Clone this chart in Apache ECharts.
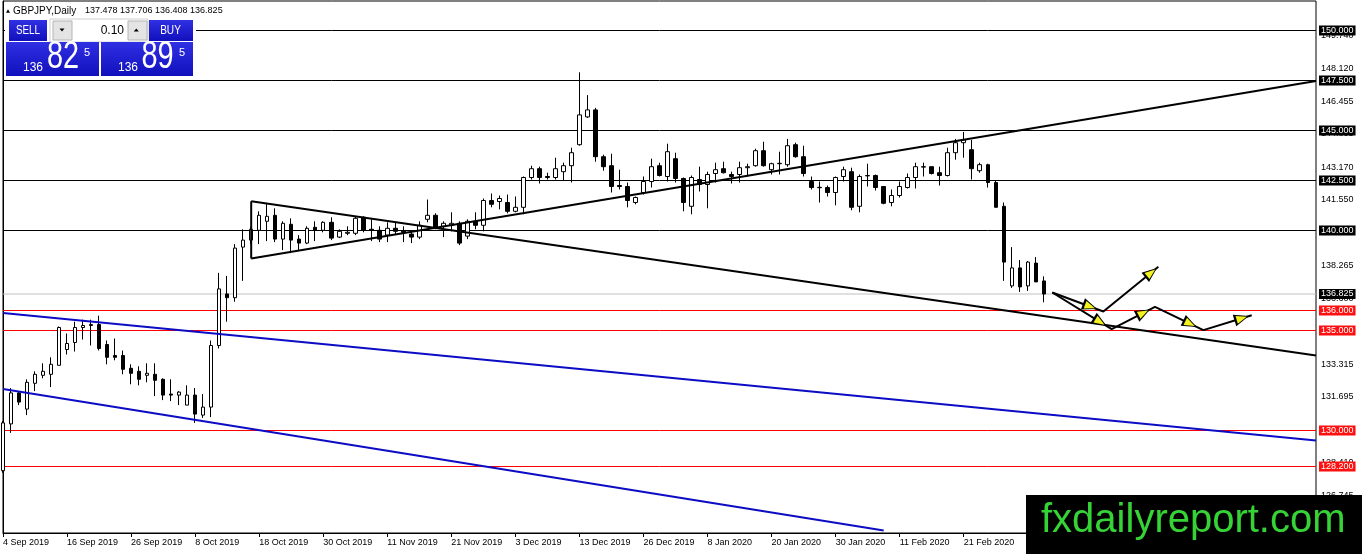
<!DOCTYPE html>
<html><head><meta charset="utf-8">
<script src="https://cdn.jsdelivr.net/npm/echarts@6/dist/echarts.min.js"></script>
<style>html,body{margin:0;padding:0;background:#fff}#c{width:1362px;height:554px}</style>
</head><body><div id="c"></div>
<script>
const FONT = '"Liberation Sans", Arial, sans-serif';

// ---- trading days (categories) ----
const sep2019=[4,5,6,9,10,11,12,13,16,17,18,19,20,23,24,25,26,27,30];
const oct2019=[1,2,3,4,7,8,9,10,11,14,15,16,17,18,21,22,23,24,25,28,29,30,31];
const nov2019=[1,4,5,6,7,8,11,12,13,14,15,18,19,20,21,22,25,26,27,28,29];
const dec2019=[2,3,4,5,6,9,10,11,12,13,16,17,18,19,20,23,24,26,27,30,31];
const jan2020=[2,3,6,7,8,9,10,13,14,15,16,17,20,21,22,23,24,27,28,29,30,31];
const feb2020=[3,4,5,6,7,10,11,12,13,14,17,18,19,20,21,24,25,26,27,28];
const mar2020=[2,3,4,5,6];
const futureSlots = 34;

// ---- OHLC ----
const opens=[127.99,130.33,131.88,131.07,132.36,132.76,132.81,133.26,134.05,134.40,
135.15,135.25,135.30,134.30,133.75,133.75,133.11,132.96,132.76,132.81,
132.56,131.82,131.77,131.27,131.77,130.77,131.17,134.25,136.83,136.64,
139.17,139.52,140.01,140.46,140.76,139.57,140.31,139.57,139.37,140.16,
140.01,140.41,139.67,139.86,139.86,140.66,140.06,140.01,139.77,140.11,
139.96,139.82,139.67,140.56,140.76,140.21,140.26,140.36,139.72,140.46,
140.26,141.50,141.45,141.40,140.96,141.16,142.65,143.09,142.70,142.65,
142.94,143.24,144.29,145.68,146.03,143.69,143.24,142.25,142.20,141.40,
141.90,142.45,143.24,142.70,143.59,142.60,141.21,142.55,142.30,142.85,
143.09,142.80,142.80,143.14,143.24,143.99,143.04,143.34,143.29,144.29,
143.69,142.45,142.16,142.15,141.90,142.70,142.94,141.21,142.73,142.75,
142.20,141.40,141.75,142.15,142.65,143.17,143.19,142.89,142.75,143.89,
144.39,144.04,142.99,143.29,142.40,141.21,137.23,138.13,137.23,138.37,
137.478];
const closes=[130.38,131.88,131.42,132.41,132.81,132.96,133.31,135.15,134.35,135.15,
135.25,135.30,134.10,133.66,133.66,133.06,132.86,132.56,132.86,132.51,
131.77,131.77,131.92,131.77,130.82,131.17,134.25,137.08,136.64,139.12,
139.52,140.06,140.76,140.71,139.57,140.36,139.52,139.37,140.11,140.01,
140.41,139.62,139.96,139.91,140.61,140.01,140.01,139.57,140.11,139.96,
139.91,139.67,140.26,140.76,140.16,140.36,140.36,139.37,140.46,140.26,
141.50,141.31,141.60,140.96,141.16,142.65,143.09,142.65,142.65,143.09,
143.24,143.89,145.78,146.03,143.69,143.19,142.20,142.20,141.50,141.65,
142.45,143.19,142.75,143.94,142.60,141.40,142.65,142.30,142.80,143.04,
142.89,142.70,143.14,143.19,143.99,143.24,143.34,143.36,144.24,143.69,
142.85,142.15,142.14,141.90,142.65,143.04,141.16,142.70,142.75,142.15,
141.36,141.75,142.20,142.65,143.19,143.19,142.85,142.75,143.89,144.39,
144.53,143.09,143.29,142.40,141.16,138.42,138.13,137.18,138.42,137.43,
136.825];
const lows=[127.89,129.88,131.27,130.77,131.97,132.61,132.17,133.26,133.80,133.95,
134.55,134.25,134.00,133.31,133.51,132.81,132.31,132.26,132.41,131.72,
131.52,131.47,131.27,131.27,130.38,130.63,130.67,134.10,135.44,136.44,
137.48,139.32,139.32,139.47,139.42,139.02,138.87,138.97,139.32,139.47,
139.91,139.52,139.62,139.77,139.77,139.91,139.47,139.42,139.42,139.82,
139.42,139.37,139.57,140.41,140.06,139.67,139.96,139.27,139.57,140.06,
139.96,141.16,141.06,140.86,140.91,140.81,142.55,142.35,142.55,142.55,
142.50,142.40,144.24,145.63,143.44,142.99,141.90,142.05,141.16,141.31,
141.80,142.15,142.70,142.45,142.40,140.96,140.81,141.95,141.11,142.40,
142.85,142.35,142.40,142.70,143.19,143.19,142.80,142.80,143.19,143.64,
142.70,142.05,141.40,141.70,141.26,142.45,141.01,140.91,142.20,142.00,
141.31,141.21,141.65,142.10,142.10,142.70,142.80,142.25,142.70,143.54,
143.64,142.55,142.89,142.15,141.16,137.48,137.13,136.93,136.98,137.43,
136.408];
const highs=[130.48,132.12,131.97,132.56,132.96,133.36,133.66,135.20,134.85,135.44,
135.54,135.54,135.74,134.50,134.60,134.00,133.31,133.21,133.36,133.36,
132.61,132.56,131.97,132.26,132.12,131.82,134.50,137.88,137.73,139.32,
140.06,140.16,140.96,141.36,141.11,140.46,140.61,139.77,140.21,140.46,
140.46,140.66,140.06,140.21,140.71,140.71,140.56,140.21,140.41,140.41,
140.21,139.96,140.46,141.55,140.86,140.46,140.91,140.46,140.56,140.91,
141.60,141.85,141.75,141.80,141.70,142.70,143.24,143.19,142.89,143.64,
143.39,144.14,147.91,146.77,146.13,143.79,143.84,143.04,142.40,141.70,
142.70,143.59,143.39,144.34,143.89,142.65,142.75,143.19,142.94,143.39,
143.44,142.94,143.44,143.34,144.09,144.44,143.39,143.94,144.58,144.39,
144.24,142.70,142.45,142.25,142.70,143.19,143.14,142.80,143.34,142.80,
142.20,142.05,142.45,142.85,143.39,143.39,143.19,143.19,144.14,144.58,
144.93,144.53,143.39,143.34,142.50,141.40,139.17,138.52,138.47,138.67,
137.706];

// ---- price axis ticks & levels ----
const yTicks=[149.740,148.120,146.455,144.835,143.170,141.550,139.885,138.265,136.600,134.980,133.315,131.695,130.030,128.410,126.745];
const blackLevels=[150,147.5,145,142.5,140];
const redLevels=[136,135,130,128.2];
const bid=136.825, ask=136.895, lot='0.10';

// ---- drawn objects (bar index, price) ----
const triangleTop=[[31,141.46],[164,133.75]];
const triangleBottom=[[31,138.60],[164,147.47]];
const triangleEdge=[[31,141.46],[31,138.60]];
const channelUpper=[[0,135.88],[164,129.50]];
const channelLower=[[0,132.08],[110,125.00]];
const arrowPathA=[[131.06,136.90],[137.44,135.95],[144.31,138.19]];
const arrowPathB=[[131.06,136.90],[138.48,135.07],[143.89,136.18],[149.93,135.02],[155.97,135.76]];
const arrowHeads=[
 [[131.06,136.90],[135.77,136.20]],
 [[137.44,135.95],[143.40,137.89]],
 [[131.06,136.90],[137.02,135.43]],
 [[138.48,135.07],[142.43,135.88]],
 [[143.89,136.18],[148.26,135.34]],
 [[149.93,135.02],[154.72,135.61]]
];

const mk=(arr,m)=>arr.map(d=>d+' '+m);
const dates=[].concat(mk(sep2019,'Sep 2019'),mk(oct2019,'Oct 2019'),mk(nov2019,'Nov 2019'),
  mk(dec2019,'Dec 2019'),mk(jan2020,'Jan 2020'),mk(feb2020,'Feb 2020'),mk(mar2020,'Mar 2020'));
const categories=dates.concat(Array.from({length:futureSlots},(_,i)=>'f'+i));
const candles=opens.map((o,i)=>[o,closes[i],lows[i],highs[i]]);
const lastIdx=categories.length-1;

function levelLine(v,lineColor,bg){
  return {type:'line',xAxisIndex:1,yAxisIndex:0,data:[[0,v],[lastIdx,v]],symbol:'none',showSymbol:false,
    lineStyle:{color:lineColor,width:1,type:'solid'},itemStyle:{color:lineColor},
    clip:false,silent:true,z:1,
    endLabel:{show:true,distance:3,formatter:v.toFixed(3),color:'#fff',backgroundColor:bg,
      padding:[1,2,0,2],fontSize:9,fontFamily:FONT}};
}

function trend(data,color){
  return {type:'line',xAxisIndex:1,yAxisIndex:0,data:data,symbol:'none',showSymbol:false,
    lineStyle:{color:color,width:2},itemStyle:{color:color},clip:true,silent:true,z:3};
}
const headData=arrowHeads.map(h=>[{coord:h[0]},{coord:h[1]}]);

const serA=trend(arrowPathA,'#000');
serA.markLine={silent:true,z:5,symbol:['none','triangle'],symbolSize:[12,15],label:{show:false},
  lineStyle:{width:0,color:'#000',type:'solid'},data:headData};
const serB=trend(arrowPathB,'#000');
serB.markLine={silent:true,z:6,symbol:['none','triangle'],symbolSize:[8,10.5],label:{show:false},
  lineStyle:{width:0,color:'#f2f21e',type:'solid'},data:headData};

const blueGrad={type:'linear',x:0,y:0,x2:0,y2:1,colorStops:[{offset:0,color:'#3030e4'},{offset:1,color:'#1010bc'}]};
const bidS=bid.toFixed(3), askS=ask.toFixed(3);
const hdr=[opens[130],highs[130],lows[130],closes[130]].map(v=>v.toFixed(3)).join(' ');

function txt(x,y,text,size,opt){
  opt=opt||{};
  return {type:'text',z:102,x:x,y:y,scaleX:opt.sx||1,
    style:{text:text,fill:opt.fill||'#fff',font:size+'px '+FONT,align:opt.align||'left',verticalAlign:'middle'}};
}

const graphic=[
  {type:'polygon',z:102,shape:{points:[[6,12.7],[8,9.3],[10,12.7]]},style:{fill:'#000'}},
  txt(13,11,'GBPJPY,Daily',10,{fill:'#000'}),
  txt(85,11,hdr,9,{fill:'#000'}),
  {type:'rect',z:100,shape:{x:5,y:17,width:191,height:61},style:{fill:'#fff'}},
  {type:'rect',z:101,shape:{x:9,y:20,width:38,height:21},style:{fill:blueGrad}},
  txt(28,30.7,'SELL',12,{align:'center',sx:0.82}),
  {type:'rect',z:101,shape:{x:50,y:19,width:98,height:23},style:{fill:'#fff',stroke:'#cfcfcf',lineWidth:1}},
  {type:'rect',z:101,shape:{x:53,y:21,width:19,height:19},style:{fill:'#e4e4e4',stroke:'#b4b4b4',lineWidth:1}},
  {type:'polygon',z:102,shape:{points:[[59.5,28.5],[64.5,28.5],[62,31.5]]},style:{fill:'#000'}},
  txt(124,30.7,lot,12,{fill:'#000',align:'right'}),
  {type:'rect',z:101,shape:{x:128,y:21,width:19,height:19},style:{fill:'#e4e4e4',stroke:'#b4b4b4',lineWidth:1}},
  {type:'polygon',z:102,shape:{points:[[133.8,31.5],[138.8,31.5],[136.3,28.5]]},style:{fill:'#000'}},
  {type:'rect',z:101,shape:{x:149,y:20,width:44,height:21},style:{fill:blueGrad}},
  txt(170.5,30.7,'BUY',12,{align:'center',sx:0.84}),
  {type:'rect',z:101,shape:{x:6,y:42,width:93,height:34},style:{fill:blueGrad}},
  {type:'rect',z:101,shape:{x:101,y:42,width:92,height:34},style:{fill:blueGrad}},
  txt(23,67.2,bidS.slice(0,3),12),
  txt(47,57.2,bidS.slice(4,6),38,{sx:0.76}),
  txt(84,53.3,bidS.slice(6),11),
  txt(118,67.2,askS.slice(0,3),12),
  txt(141.5,57.2,askS.slice(4,6),38,{sx:0.76}),
  txt(179,53.3,askS.slice(6),11),
  {type:'rect',z:110,shape:{x:1026,y:495,width:336,height:59},style:{fill:'#000'}},
  {type:'text',z:111,x:1041,y:521,style:{text:'fxdailyreport.com',fill:'#36d336',font:'40px '+FONT,align:'left',verticalAlign:'middle'}}
];

const chart=echarts.init(document.getElementById('c'),null,{renderer:'canvas'});
chart.setOption({
  animation:false,
  backgroundColor:'#fff',
  textStyle:{fontFamily:FONT},
  grid:{left:3,right:46,top:1,bottom:21,show:true,borderColor:'#000',borderWidth:1,backgroundColor:'transparent'},
  xAxis:[
    {type:'category',data:categories,boundaryGap:false,
     axisLine:{show:true,lineStyle:{color:'#000',width:1}},
     axisTick:{show:true,interval:7,length:4,lineStyle:{color:'#000'}},
     axisLabel:{interval:7,align:'left',margin:5,fontSize:9,color:'#000',fontFamily:FONT,
       formatter:v=>v.charAt(0)==='f'?'':v},
     splitLine:{show:false}},
    {type:'value',min:0,max:lastIdx,show:false}
  ],
  yAxis:{type:'value',position:'right',min:124.875,max:151.475,
    axisLine:{show:true,lineStyle:{color:'#000'}},
    axisTick:{show:false},
    axisLabel:{customValues:yTicks,formatter:v=>v.toFixed(3),fontSize:9,color:'#000',margin:5,fontFamily:FONT},
    splitLine:{show:false}},
  series:[].concat(
    blackLevels.map(v=>levelLine(v,'#000','#000')),
    [levelLine(bid,'#c0c0c0','#000')],
    redLevels.map(v=>levelLine(v,'#ff0000','#ff1010')),
    [{type:'candlestick',data:candles,barWidth:4,clip:true,silent:true,z:2,
      itemStyle:{color:'#fff',color0:'#000',borderColor:'#000',borderColor0:'#000',borderWidth:1}},
     trend(triangleTop,'#000'),
     trend(triangleBottom,'#000'),
     trend(triangleEdge,'#000'),
     trend(channelUpper,'#0c0cc4'),
     trend(channelLower,'#0c0cc4'),
     serA,
     serB]
  ),
  graphic:graphic
});
</script>
</body></html>
